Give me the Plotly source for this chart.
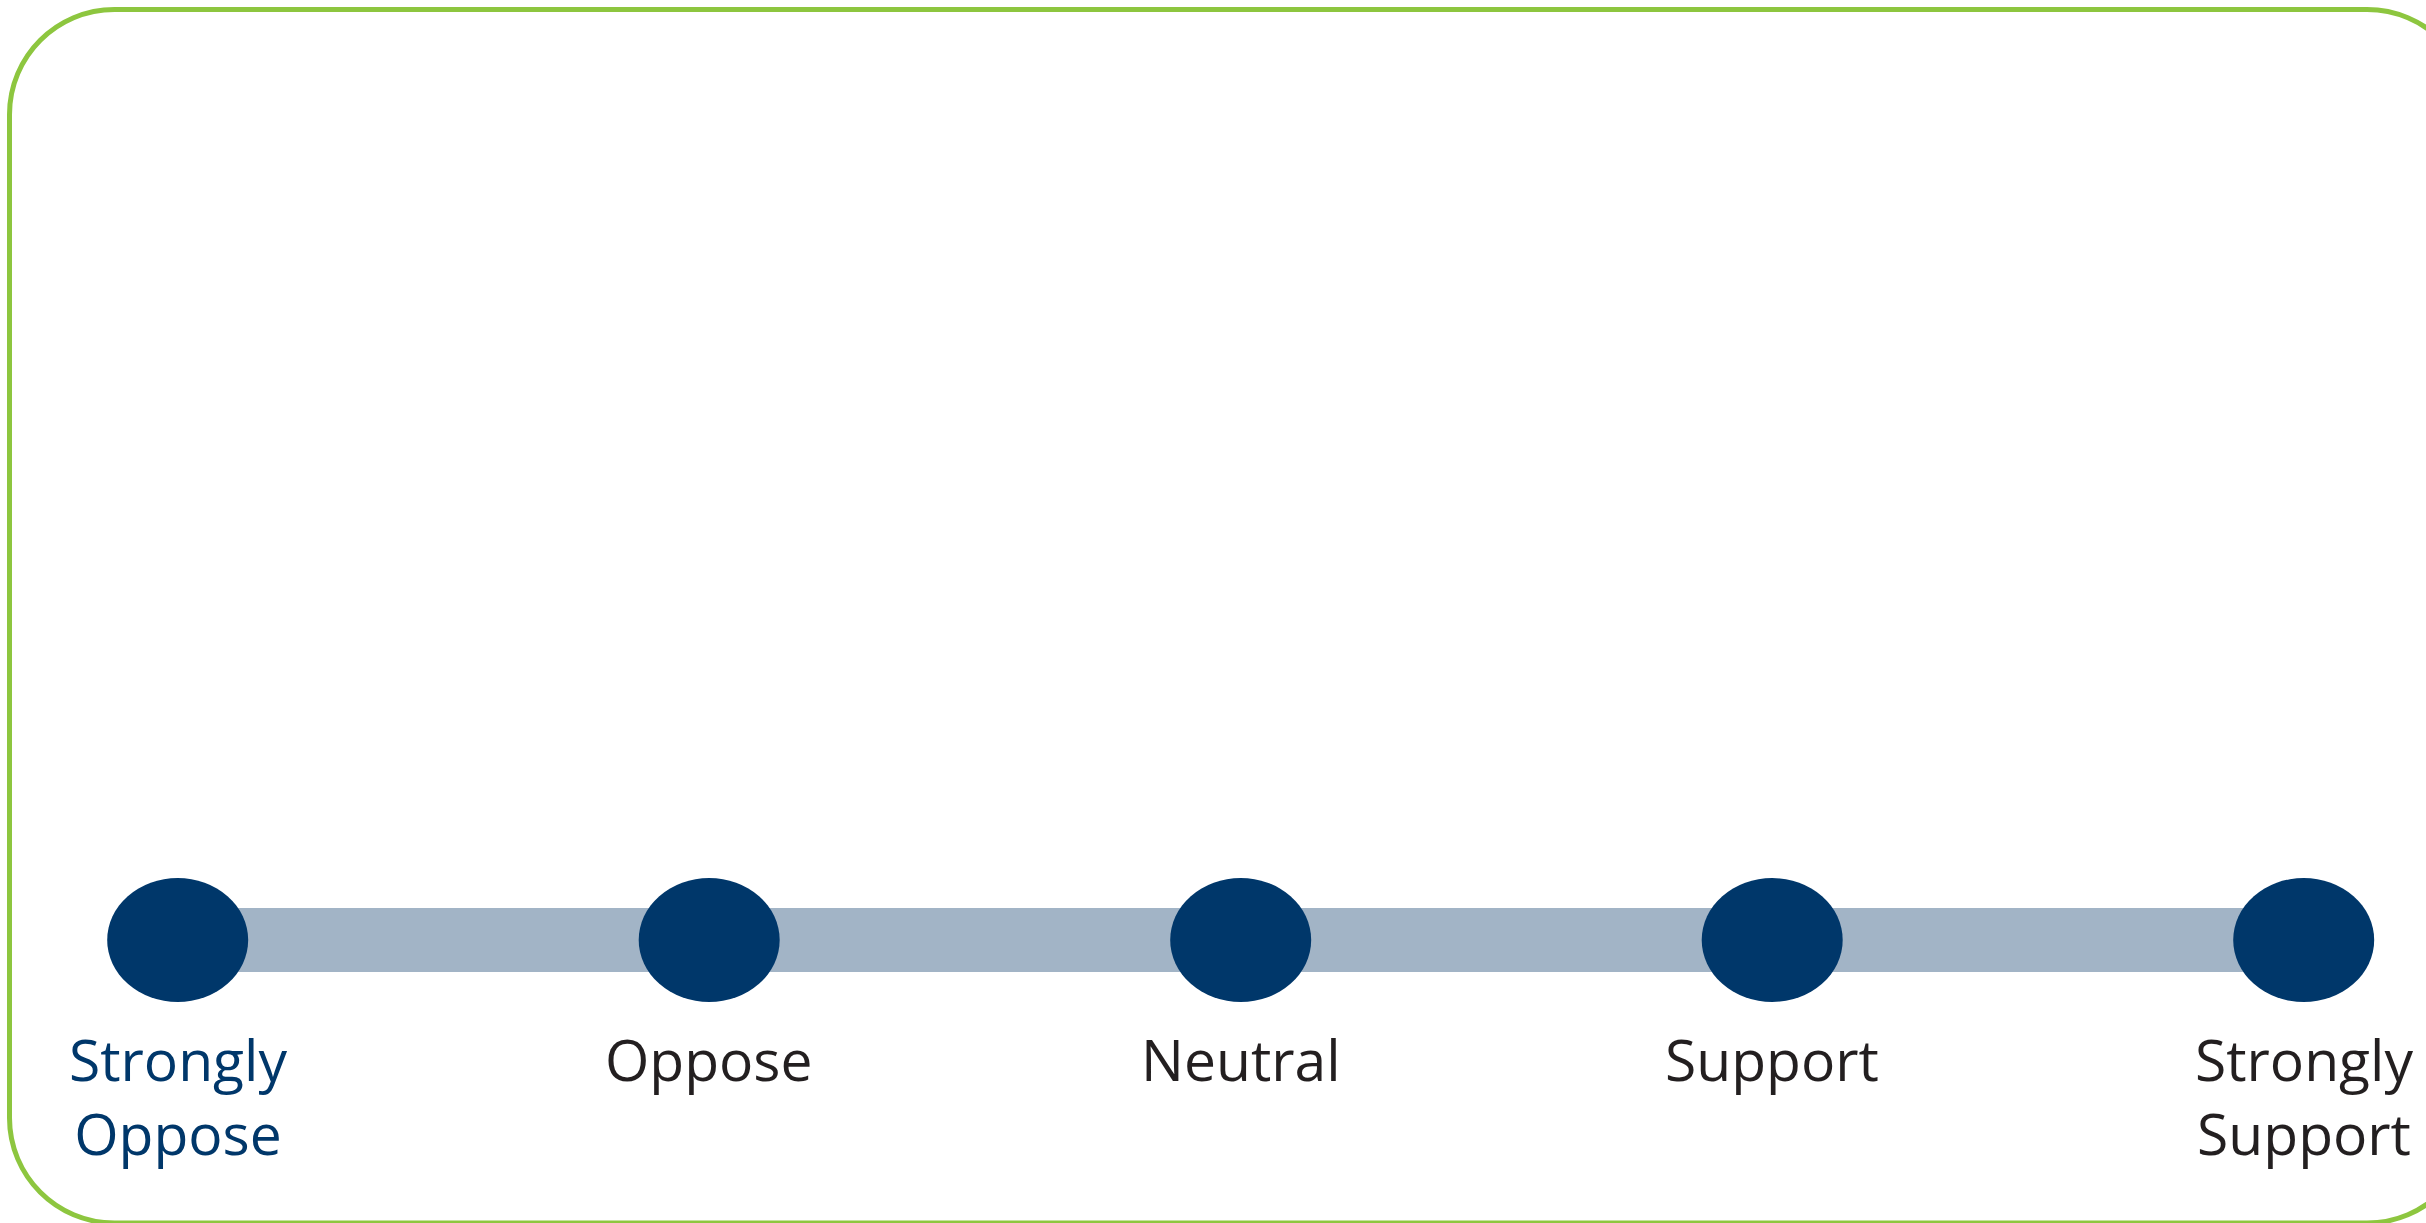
import plotly.graph_objects as go

# ---- data ----
categories = ["Strongly Oppose", "Oppose", "Neutral", "Support", "Strongly Support"]
tick_labels = ["Strongly<br>Oppose", "Oppose", "Neutral", "Support", "Strongly<br>Support"]
values = [0, 0, 0, 0, 0]
label_colors = ["#00376A", "#231F20", "#231F20", "#231F20", "#231F20"]

W, H = 2426, 1223
NAVY = "#00376A"
BAR = "#A2B4C6"
GREEN = "#8DC63F"

fig = go.Figure()

# connecting bar
fig.add_trace(go.Scatter(
    x=categories, y=values, mode="lines",
    line=dict(color=BAR, width=64),
    hoverinfo="skip", showlegend=False,
))

shapes = []
# ellipse markers anchored to category positions
for c, v in zip(categories, values):
    shapes.append(dict(
        type="circle", xref="x", yref="y",
        xsizemode="pixel", ysizemode="pixel",
        xanchor=c, yanchor=v,
        x0=-70.5, x1=70.5, y0=-62, y1=62,
        fillcolor=NAVY, line=dict(width=0), layer="above",
    ))

# rounded green frame (decoration, in paper coordinates)
def px(x):
    return x / W

def py(y):
    return 1 - y / H

x0, y0, x1, y1, r = 9.5, 9.5, 2472, 1223, 105
k = 0.5523 * r
pts = [
    ("M", [(x0 + r, y0)]),
    ("L", [(x1 - r, y0)]),
    ("C", [(x1 - r + k, y0), (x1, y0 + r - k), (x1, y0 + r)]),
    ("L", [(x1, y1 - r)]),
    ("C", [(x1, y1 - r + k), (x1 - r + k, y1), (x1 - r, y1)]),
    ("L", [(x0 + r, y1)]),
    ("C", [(x0 + r - k, y1), (x0, y1 - r + k), (x0, y1 - r)]),
    ("L", [(x0, y0 + r)]),
    ("C", [(x0, y0 + r - k), (x0 + r - k, y0), (x0 + r, y0)]),
]
path = ""
for cmd, ps in pts:
    path += cmd + " " + " ".join(f"{px(a):.6f},{py(b):.6f}" for a, b in ps) + " "
path += "Z"
shapes.append(dict(type="path", xref="paper", yref="paper", path=path,
                   line=dict(color=GREEN, width=5), fillcolor="rgba(0,0,0,0)"))

annotations = []
for c, v, t, col in zip(categories, values, tick_labels, label_colors):
    annotations.append(dict(
        x=c, y=v, xref="x", yref="y", text=t, showarrow=False,
        yanchor="top", xanchor="center", align="center", yshift=-78,
        font=dict(family="Open Sans", size=57, color=col),
    ))

fig.update_layout(
    width=W, height=H,
    margin=dict(l=0, r=0, t=0, b=0),
    paper_bgcolor="white", plot_bgcolor="white",
    xaxis=dict(type="category", categoryorder="array", categoryarray=categories,
               range=[-0.3343, 4.2301], visible=False, fixedrange=True),
    yaxis=dict(range=[-283, 940], visible=False, fixedrange=True),
    shapes=shapes, annotations=annotations,
    showlegend=False,
)

fig.write_html(
    "out.html",
    config={"displayModeBar": False},
    post_script="document.body.style.margin='0';document.body.style.overflow='hidden';",
)
